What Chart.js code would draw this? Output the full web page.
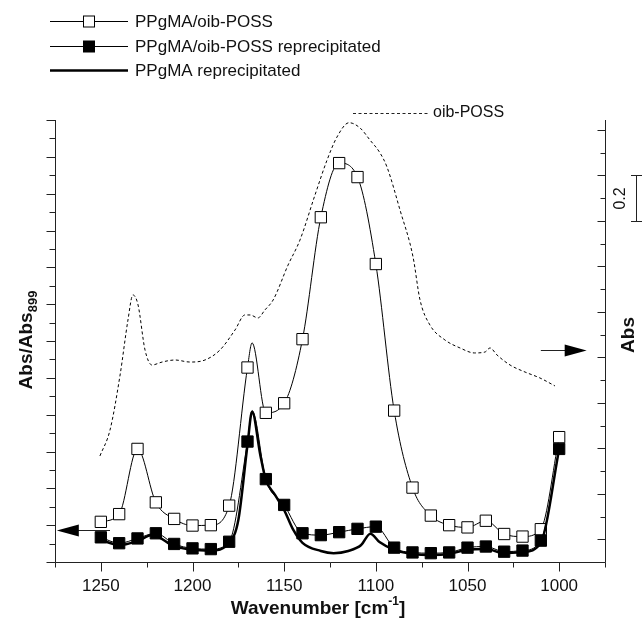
<!DOCTYPE html>
<html>
<head>
<meta charset="utf-8">
<script src="https://cdn.jsdelivr.net/npm/chart.js@4.4.0/dist/chart.umd.min.js"></script>
<style>
  html, body { margin: 0; padding: 0; background: #fff; }
  #wrap { width: 642px; height: 627px; }
</style>
</head>
<body>
<div id="wrap"><canvas id="ftir" width="642" height="627"></canvas></div>
<script>
// Wavenumbers where the square markers sit
const markerWn = [1250, 1240, 1230, 1220, 1210, 1200, 1190, 1180, 1170, 1160, 1150, 1140, 1130,
                  1120, 1110, 1100, 1090, 1080, 1070, 1060, 1050, 1040, 1030, 1020, 1010, 1000];

// PPgMA/oib-POSS (open squares), Abs/Abs899
const hybrid = [1.09, 1.30, 3.07, 1.62, 1.17, 0.99, 1.00, 1.53, 5.28, 4.05, 4.31, 6.05, 9.36,
                10.83, 10.45, 8.09, 4.11, 2.02, 1.26, 1.00, 0.94, 1.12, 0.76, 0.69, 0.89, 3.39];
// PPgMA/oib-POSS reprecipitated (filled squares)
const hybridRep = [0.67, 0.51, 0.64, 0.78, 0.49, 0.37, 0.35, 0.55, 3.27, 2.25, 1.55, 0.78, 0.73,
                   0.81, 0.90, 0.96, 0.39, 0.26, 0.24, 0.26, 0.39, 0.42, 0.28, 0.31, 0.58, 3.07];

// carbonyl peak between markers
const peakWn = 1167.5;
const hybridPeak = 5.95;
const hybridRepPeak = 4.11;

// PPgMA reprecipitated (thick line, no markers)
const ppgmaWn = [1250, 1240, 1230, 1222, 1210, 1200, 1190, 1180, 1175, 1170, 1167.5, 1163, 1160,
                 1155, 1150, 1145, 1140, 1130, 1123, 1115, 1108, 1103, 1098, 1090, 1080, 1070,
                 1060, 1050, 1040, 1030, 1020, 1010, 1000];
const ppgmaRep = [0.60, 0.46, 0.57, 0.73, 0.43, 0.33, 0.31, 0.52, 1.14, 3.18, 4.08, 2.90, 2.23,
                  1.82, 1.41, 0.87, 0.52, 0.30, 0.24, 0.30, 0.46, 0.77, 0.54, 0.33, 0.22, 0.19,
                  0.22, 0.33, 0.35, 0.24, 0.27, 0.52, 3.07];

// oib-POSS (dashed, right axis, Abs)
const possWn = [1250.5, 1245, 1239.5, 1235.2, 1232.5, 1229.7, 1225.9, 1222.1, 1216.6, 1209.5,
                1201.4, 1193.2, 1185, 1176.8, 1171.4, 1168.6, 1164.3, 1160.5, 1156, 1147.9,
                1141.4, 1133.2, 1126.6, 1121.2, 1114.6, 1108.6, 1103.2, 1097.7, 1093.9, 1086.8,
                1079.7, 1075.9, 1070.5, 1062.3, 1054.1, 1046.2, 1040.5, 1037.7, 1033.9, 1026.8,
                1018.6, 1010.5, 1002.3];
const possAbs = [0.366, 0.480, 0.722, 0.964, 1.074, 1.030, 0.832, 0.766, 0.779, 0.788,
                 0.779, 0.788, 0.832, 0.920, 0.986, 0.986, 0.973, 1.008, 1.052, 1.205,
                 1.315, 1.513, 1.667, 1.768, 1.831, 1.808, 1.755, 1.698, 1.636, 1.447,
                 1.241, 1.052, 0.942, 0.876, 0.841, 0.819, 0.823, 0.841, 0.810, 0.766,
                 0.735, 0.709, 0.674];

const xTickLabels = [1250, 1200, 1150, 1100, 1050, 1000];

const FONT = '"Liberation Sans", Arial, sans-serif';

// marker series + the extra peak point, sorted high -> low wavenumber
function withPeak(values, peak) {
  const pts = markerWn.map((w, i) => ({x: w, y: values[i]}));
  pts.push({x: peakWn, y: peak});
  return pts.sort((a, b) => b.x - a.x);
}
const markerSet = new Set(markerWn);
const markerRadius = ctx => (markerSet.has(ctx.raw && ctx.raw.x) ? 8 : 0);

const frame = {
  id: 'frame',
  afterDraw(chart) {
    const {ctx, chartArea: a, scales: {x, y, y2}} = chart;
    ctx.save();
    ctx.strokeStyle = '#222';
    ctx.fillStyle = '#111';
    ctx.lineWidth = 1;

    // axis lines (left, bottom, right)
    const L = a.left + 0.5, R = Math.round(a.right) + 0.5, B = Math.round(a.bottom) + 0.5;
    ctx.beginPath();
    ctx.moveTo(L, a.top); ctx.lineTo(L, B); ctx.lineTo(R, B); ctx.lineTo(R, a.top);
    ctx.stroke();

    // bottom ticks, outside
    ctx.beginPath();
    for (let w = 975; w <= 1275; w += 25) {
      const px = Math.round(x.getPixelForValue(w)) + 0.5;
      const major = xTickLabels.includes(w);
      ctx.moveTo(px, B); ctx.lineTo(px, B + (major ? 9 : 5));
    }
    // left ticks, outside
    for (let v = 0; v <= 12; v += 0.5) {
      const py = Math.round(y.getPixelForValue(v)) + 0.5;
      ctx.moveTo(L, py); ctx.lineTo(L - (v % 1 === 0 ? 9 : 6), py);
    }
    // right ticks, inside
    for (let k = 0; k <= 18; k++) {
      const py = Math.round(y2.getPixelForValue(k / 10)) + 0.5;
      ctx.moveTo(R, py); ctx.lineTo(R - (k % 2 === 0 ? 8 : 5), py);
    }
    ctx.stroke();

    // x tick labels
    ctx.font = '17px ' + FONT;
    ctx.textAlign = 'center';
    ctx.textBaseline = 'middle';
    xTickLabels.forEach(w => ctx.fillText(String(w), x.getPixelForValue(w), 586));

    // x title with superscript
    ctx.font = 'bold 19px ' + FONT;
    const t1 = 'Wavenumber [cm', sup = '-1', t2 = ']';
    ctx.textAlign = 'left';
    const w1 = ctx.measureText(t1).width, w3 = ctx.measureText(t2).width;
    ctx.font = 'bold 12px ' + FONT;
    const w2 = ctx.measureText(sup).width;
    let sx = (a.left + a.right) / 2 - 12 - (w1 + w2 + w3) / 2;
    ctx.font = 'bold 19px ' + FONT;
    ctx.fillText(t1, sx, 609);
    ctx.font = 'bold 12px ' + FONT;
    ctx.fillText(sup, sx + w1, 602);
    ctx.font = 'bold 19px ' + FONT;
    ctx.fillText(t2, sx + w1 + w2, 609);

    // left title, rotated, with subscript
    ctx.save();
    ctx.translate(27, 340);
    ctx.rotate(-Math.PI / 2);
    ctx.font = 'bold 19px ' + FONT;
    const m1 = ctx.measureText('Abs/Abs').width;
    ctx.font = 'bold 13px ' + FONT;
    const m2 = ctx.measureText('899').width;
    ctx.font = 'bold 19px ' + FONT;
    ctx.fillText('Abs/Abs', -(m1 + m2) / 2, 0);
    ctx.font = 'bold 13px ' + FONT;
    ctx.fillText('899', -(m1 + m2) / 2 + m1, 6);
    ctx.restore();

    // right title
    ctx.save();
    ctx.translate(629, 335);
    ctx.rotate(-Math.PI / 2);
    ctx.font = 'bold 19px ' + FONT;
    ctx.textAlign = 'center';
    ctx.fillText('Abs', 0, 0);
    ctx.restore();

    // 0.2 Abs scale bar, on the right scale
    const sbTop = Math.round(y2.getPixelForValue(1.6)) + 0.5;
    const sbBot = Math.round(y2.getPixelForValue(1.4)) + 0.5;
    ctx.beginPath();
    ctx.moveTo(636.5, sbTop); ctx.lineTo(636.5, sbBot);
    ctx.moveTo(631, sbTop); ctx.lineTo(642, sbTop);
    ctx.moveTo(631, sbBot); ctx.lineTo(642, sbBot);
    ctx.stroke();
    ctx.save();
    ctx.translate(621, (sbTop + sbBot) / 2);
    ctx.rotate(-Math.PI / 2);
    ctx.font = '16px ' + FONT;
    ctx.textAlign = 'center';
    ctx.fillText('0.2', 0, 0);
    ctx.restore();

    // arrows pointing to the axis each curve uses
    const arrow = (xFrom, xTip, py, dir) => {
      ctx.beginPath();
      ctx.moveTo(xFrom, py); ctx.lineTo(xTip - dir * 18, py);
      ctx.stroke();
      ctx.beginPath();
      ctx.moveTo(xTip, py);
      ctx.lineTo(xTip - dir * 22, py - 6);
      ctx.lineTo(xTip - dir * 22, py + 6);
      ctx.closePath();
      ctx.fill();
    };
    ctx.fillStyle = '#000';
    arrow(x.getPixelForValue(1245), x.getPixelForValue(1274), Math.round(y.getPixelForValue(0.88)) + 0.5, -1);
    arrow(x.getPixelForValue(1010), x.getPixelForValue(985), Math.round(y2.getPixelForValue(0.83)) + 0.5, 1);

    // oib-POSS label with dashed key
    ctx.setLineDash([3, 2.5]);
    ctx.beginPath();
    ctx.moveTo(353, 113.5); ctx.lineTo(430, 113.5);
    ctx.stroke();
    ctx.setLineDash([]);
    ctx.font = '16px ' + FONT;
    ctx.textAlign = 'left';
    ctx.fillStyle = '#111';
    ctx.fillText('oib-POSS', 433, 113);

    // legend
    const rows = [
      {label: 'PPgMA/oib-POSS', y: 21, width: 1, box: 'open'},
      {label: 'PPgMA/oib-POSS reprecipitated', y: 46, width: 1, box: 'filled'},
      {label: 'PPgMA reprecipitated', y: 70, width: 2.5, box: null}
    ];
    ctx.font = '17px ' + FONT;
    rows.forEach(r => {
      ctx.strokeStyle = '#000';
      ctx.lineWidth = r.width;
      ctx.beginPath();
      ctx.moveTo(50, r.y + 0.5); ctx.lineTo(128, r.y + 0.5);
      ctx.stroke();
      if (r.box) {
        ctx.lineWidth = 1;
        ctx.fillStyle = r.box === 'open' ? '#fff' : '#000';
        ctx.fillRect(83.5, r.y - 5, 11, 11);
        ctx.strokeRect(83.5, r.y - 5, 11, 11);
      }
      ctx.fillStyle = '#111';
      ctx.fillText(r.label, 135, r.y + 1);
    });
    ctx.restore();
  }
};

new Chart(document.getElementById('ftir'), {
  type: 'line',
  data: {
    datasets: [
      {
        label: 'oib-POSS',
        data: possWn.map((w, i) => ({x: w, y: possAbs[i]})),
        yAxisID: 'y2',
        borderColor: '#000',
        borderWidth: 1,
        borderDash: [3, 2.5],
        pointRadius: 0,
        cubicInterpolationMode: 'monotone'
      },
      {
        label: 'PPgMA reprecipitated',
        data: ppgmaWn.map((w, i) => ({x: w, y: ppgmaRep[i]})),
        yAxisID: 'y',
        borderColor: '#000',
        borderWidth: 2.5,
        pointRadius: 0,
        cubicInterpolationMode: 'monotone'
      },
      {
        label: 'PPgMA/oib-POSS reprecipitated',
        data: withPeak(hybridRep, hybridRepPeak),
        yAxisID: 'y',
        borderColor: '#000',
        borderWidth: 1,
        pointStyle: 'rect',
        pointRadius: markerRadius,
        pointBackgroundColor: '#000',
        pointBorderColor: '#000',
        pointBorderWidth: 1,
        cubicInterpolationMode: 'monotone'
      },
      {
        label: 'PPgMA/oib-POSS',
        data: withPeak(hybrid, hybridPeak),
        yAxisID: 'y',
        borderColor: '#000',
        borderWidth: 1,
        pointStyle: 'rect',
        pointRadius: markerRadius,
        pointBackgroundColor: '#fff',
        pointBorderColor: '#000',
        pointBorderWidth: 1,
        cubicInterpolationMode: 'monotone'
      }
    ]
  },
  options: {
    responsive: false,
    animation: false,
    devicePixelRatio: 1,
    layout: {padding: {left: 55, right: 37, top: 120, bottom: 65}},
    scales: {
      x: {type: 'linear', min: 975, max: 1275, reverse: true, display: false},
      y: {min: 0, max: 12, display: false},
      y2: {min: -0.1, max: 1.843, display: false, position: 'right'}
    },
    plugins: {
      legend: {display: false},
      tooltip: {enabled: false}
    },
    elements: {point: {hoverRadius: 0}}
  },
  plugins: [frame]
});
</script>
</body>
</html>
